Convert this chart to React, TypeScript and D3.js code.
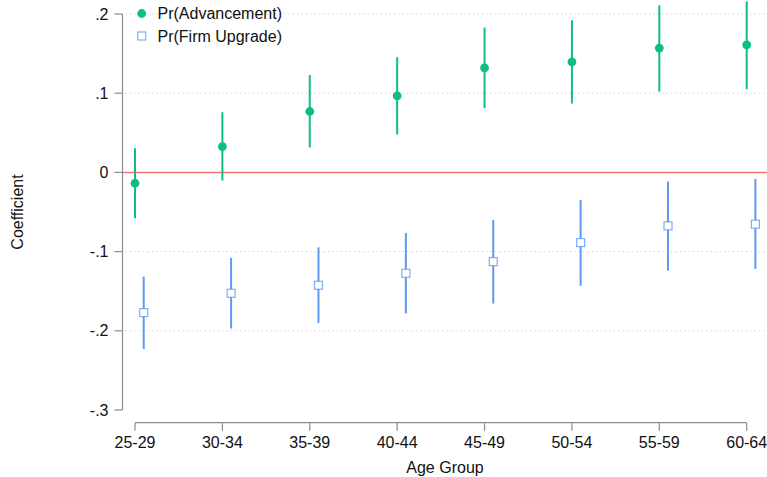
import React from "react";
import * as d3 from "d3";

const categories = ["25-29", "30-34", "35-39", "40-44", "45-49", "50-54", "55-59", "60-64"];
const advEst = [-0.0137, 0.0326, 0.0769, 0.0967, 0.132, 0.1395, 0.157, 0.161];
const advLo = [-0.058, -0.0103, 0.0315, 0.0479, 0.0812, 0.087, 0.102, 0.105];
const advHi = [0.0306, 0.076, 0.123, 0.1455, 0.183, 0.192, 0.211, 0.216];
const upEst = [-0.177, -0.1526, -0.1425, -0.1274, -0.1126, -0.0886, -0.0675, -0.0654];
const upLo = [-0.223, -0.197, -0.19, -0.178, -0.1656, -0.143, -0.124, -0.122];
const upHi = [-0.1316, -0.108, -0.0946, -0.0765, -0.06, -0.0347, -0.0116, -0.0082];
const yTicks = [0.2, 0.1, 0, -0.1, -0.2, -0.3];
const yTickLabels = [".2", ".1", "0", "-.1", "-.2", "-.3"];
const legendLabels = ["Pr(Advancement)", "Pr(Firm Upgrade)"];

const W = 767;
const H = 477;
const GREEN = "#0dbf7e";
const BLUE = "#5f98f5";
const RED = "#f7766c";
const FONT = "'Liberation Sans', Arial, Helvetica, sans-serif";

export default function App() {
  const y = d3.scaleLinear().domain([-0.3, 0.2]).range([410, 14]);
  const x = d3.scaleLinear().domain([0, categories.length - 1]).range([135, 746.7]);
  const axisX = 122.5;
  const offset = 8.7;
  const xAxisY = 422.7;

  return (
    <svg
      width={W}
      height={H}
      style={{ position: "absolute", left: 0, top: 0, background: "#fff" }}
      fontFamily={FONT}
    >
      <rect x={0} y={0} width={W} height={H} fill="#fff" />
      {/* grid lines */}
      {yTicks.filter((t) => t !== 0 && t !== -0.3).map((t) => (
        <line
          key={"g" + t}
          x1={axisX + 3}
          x2={W}
          y1={y(t)}
          y2={y(t)}
          stroke="#c8c8c8"
          strokeWidth={1}
          strokeDasharray="1.2,3.2"
        />
      ))}
      {/* zero line */}
      <line x1={axisX} x2={W} y1={y(0)} y2={y(0)} stroke={RED} strokeWidth={1.5} />
      {/* y axis */}
      <line x1={axisX} x2={axisX} y1={y(0.2)} y2={y(-0.3)} stroke="#8c8c8c" strokeWidth={1.2} />
      {yTicks.map((t, i) => (
        <g key={"yt" + t}>
          <line x1={axisX - 8} x2={axisX} y1={y(t)} y2={y(t)} stroke="#8c8c8c" strokeWidth={1.2} />
          <text x={108.5} y={y(t)} dy="0.35em" textAnchor="end" fontSize={16} fill="#111">
            {yTickLabels[i]}
          </text>
        </g>
      ))}
      <text
        transform={`translate(17,212) rotate(-90)`}
        textAnchor="middle"
        dy="0.35em"
        fontSize={16}
        fill="#111"
      >
        Coefficient
      </text>
      {/* x axis */}
      <line x1={x(0)} x2={x(categories.length - 1)} y1={xAxisY} y2={xAxisY} stroke="#8c8c8c" strokeWidth={1.2} />
      {categories.map((c, i) => (
        <g key={"xt" + c}>
          <line x1={x(i)} x2={x(i)} y1={xAxisY} y2={xAxisY + 8} stroke="#8c8c8c" strokeWidth={1.2} />
          <text x={x(i)} y={442} dy="0.35em" textAnchor="middle" fontSize={16} fill="#111">
            {c}
          </text>
        </g>
      ))}
      <text x={445} y={467} dy="0.35em" textAnchor="middle" fontSize={16} fill="#111">
        Age Group
      </text>
      {/* upgrade series */}
      {categories.map((c, i) => (
        <g key={"up" + c}>
          <line x1={x(i) + offset} x2={x(i) + offset} y1={y(upLo[i])} y2={y(upHi[i])} stroke={BLUE} strokeWidth={2} />
          <rect
            x={x(i) + offset - 4}
            y={y(upEst[i]) - 4}
            width={8}
            height={8}
            fill="#fff"
            stroke={BLUE}
            strokeOpacity={0.8}
            strokeWidth={1.2}
          />
        </g>
      ))}
      {/* advancement series */}
      {categories.map((c, i) => (
        <g key={"adv" + c}>
          <line x1={x(i)} x2={x(i)} y1={y(advLo[i])} y2={y(advHi[i])} stroke={GREEN} strokeWidth={2} />
          <circle cx={x(i)} cy={y(advEst[i])} r={4.4} fill={GREEN} />
        </g>
      ))}
      {/* legend */}
      <circle cx={141.7} cy={13.5} r={4.4} fill={GREEN} />
      <text x={157.5} y={13.5} dy="0.35em" fontSize={16} fill="#111">
        {legendLabels[0]}
      </text>
      <rect x={137.7} y={32} width={8} height={8} fill="#fff" stroke={BLUE} strokeOpacity={0.8} strokeWidth={1.2} />
      <text x={157.5} y={36} dy="0.35em" fontSize={16} fill="#111">
        {legendLabels[1]}
      </text>
    </svg>
  );
}
